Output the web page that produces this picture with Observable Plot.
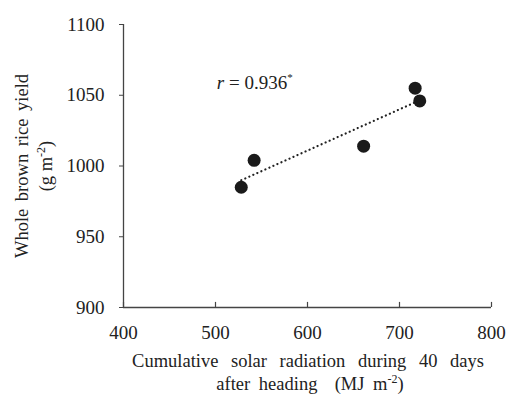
<!DOCTYPE html>
<html><head><meta charset="utf-8">
<script src="https://cdn.jsdelivr.net/npm/d3@7"></script>
<script src="https://cdn.jsdelivr.net/npm/@observablehq/plot@0.6"></script>
<style>body{margin:0;background:#fff;}</style>
</head><body><div id="chart"></div>
<script>
const radiation = [528, 542, 661, 717, 722];
const yieldVals = [985, 1004, 1014, 1055, 1046];
const xTicks = [400, 500, 600, 700, 800];
const yTicks = [900, 950, 1000, 1050, 1100];
const annotation = {x: 502, y: 1057, label: "0.936"};

const data = radiation.map((x, i) => ({x, y: yieldVals[i]}));
const ink = "#222";
const axisInk = "#444";
const serif = "'Liberation Serif', 'Times New Roman', serif";

const plot = Plot.plot({
  width: 510, height: 397,
  marginLeft: 123, marginTop: 24, marginBottom: 90, marginRight: 19,
  style: {background: "#fff", color: ink},
  x: {domain: [400, 800], ticks: xTicks, tickFormat: "d", label: null},
  y: {domain: [900, 1100], ticks: yTicks, tickFormat: "d", label: null},
  marks: [
    Plot.axisY({ticks: yTicks, tickFormat: "d", tickSize: 4, tickPadding: 15, stroke: axisInk, label: null, fill: ink}),
    Plot.axisX({ticks: xTicks, tickFormat: "d", tickSize: 0, tickPadding: 18, label: null, fill: ink}),
    Plot.ruleX(xTicks, {x: d => d, y1: 900, y2: 903.6, stroke: axisInk, strokeWidth: 1.2}),
    Plot.ruleX([400], {stroke: axisInk, strokeWidth: 1.3}),
    Plot.ruleY([900], {stroke: axisInk, strokeWidth: 1.3}),
    Plot.linearRegressionY(data, {x: "x", y: "y", ci: 0, stroke: ink, strokeWidth: 2.2, strokeDasharray: "0.1,4.3", strokeLinecap: "round"}),
    Plot.dot(data, {x: "x", y: "y", r: 6.5, fill: "#1a1a1a", stroke: null})
  ]
});
document.getElementById("chart").appendChild(plot);

const svg = d3.select(plot);
svg.selectAll('g[aria-label$="tick label"] text').style("font-size", "19px");

// correlation annotation
const ann = svg.append("text")
  .attr("x", plot.scale("x").apply(annotation.x))
  .attr("y", plot.scale("y").apply(annotation.y))
  .attr("dominant-baseline", "middle").attr("text-anchor", "start")
  .style("font-size", "19px").attr("fill", ink);
ann.append("tspan").attr("font-style", "italic").text("r");
ann.append("tspan").text(" = " + annotation.label);
ann.append("tspan").style("font-size", "11px").attr("dy", -7).text("*");

// x axis label
svg.append("text").attr("x", 308).attr("y", 367).attr("text-anchor", "middle")
  .style("font-size", "18.5px").attr("fill", ink).style("word-spacing", "8px").text("Cumulative solar radiation during 40 days");
const xl2 = svg.append("text").attr("x", 310).attr("y", 390).attr("text-anchor", "middle")
  .style("font-size", "18.5px").attr("fill", ink).style("word-spacing", "4px");
xl2.append("tspan").text("after heading  (MJ m");
xl2.append("tspan").style("font-size", "12px").attr("dy", -7).text("-2");
xl2.append("tspan").attr("dy", 7).text(")");

// y axis label
const yl = svg.append("g").attr("transform", "translate(0,166) rotate(-90)");
yl.append("text").attr("x", 0).attr("y", 28).attr("text-anchor", "middle")
  .style("font-size", "18.5px").attr("fill", ink).style("word-spacing", "3px").text("Whole brown rice yield");
const yl2 = yl.append("text").attr("x", 0).attr("y", 52).attr("text-anchor", "middle")
  .style("font-size", "18.5px").attr("fill", ink);
yl2.append("tspan").text("(g m");
yl2.append("tspan").style("font-size", "12px").attr("dy", -7).text("-2");
yl2.append("tspan").attr("dy", 7).text(")");

svg.selectAll("text").style("font-family", serif);
</script></body></html>
